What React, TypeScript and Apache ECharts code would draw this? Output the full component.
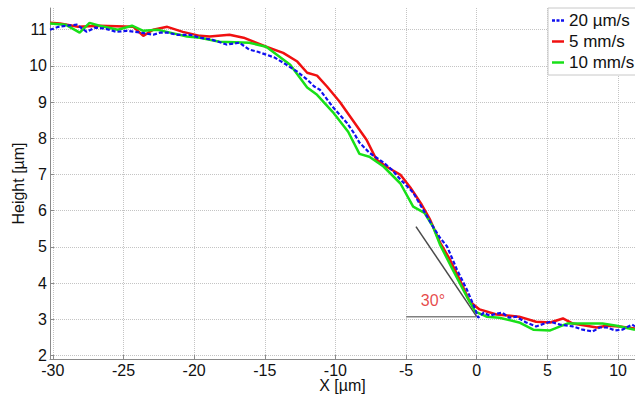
import React, { useEffect, useRef } from "react";
import * as echarts from "echarts";

const xTicks = [-30, -25, -20, -15, -10, -5, 0, 5, 10];
const yTicks = [2, 3, 4, 5, 6, 7, 8, 9, 10, 11];

const seriesNames = ["20 µm/s", "5 mm/s", "10 mm/s"];
const seriesColors = ["#1010f0", "#f01010", "#18e018"];

const blue20um: [number, number][] = [
  [-30.2, 11.0], [-29.6, 11.08], [-29.0, 11.11], [-28.3, 11.14], [-27.6, 10.94], [-27.0, 11.06],
  [-26.3, 11.03], [-25.5, 10.94], [-24.8, 10.97], [-23.8, 10.92], [-22.9, 10.86], [-22.4, 10.92],
  [-21.9, 10.92], [-21.2, 10.86], [-20.3, 10.86], [-19.6, 10.78], [-18.7, 10.72], [-17.7, 10.59],
  [-16.8, 10.64], [-16.1, 10.45], [-15.5, 10.39], [-14.9, 10.31], [-14.3, 10.23], [-13.7, 10.09],
  [-12.7, 9.84], [-12.0, 9.62], [-11.5, 9.43], [-11.1, 9.34], [-10.2, 8.87], [-9.2, 8.43],
  [-8.7, 8.15], [-8.3, 7.88], [-7.6, 7.6], [-6.6, 7.33], [-6.0, 7.13], [-5.4, 6.86], [-4.5, 6.5],
  [-3.8, 6.03], [-3.1, 5.56], [-2.6, 5.25], [-2.1, 5.01], [-1.4, 4.37], [-0.7, 3.82], [-0.1, 3.27],
  [0.1, 3.04], [0.5, 3.18], [0.9, 3.1], [1.4, 3.15], [1.8, 3.18], [2.3, 3.04], [2.8, 3.07],
  [3.5, 2.91], [4.2, 2.8], [4.8, 2.88], [5.2, 2.93], [5.9, 2.85], [6.8, 2.8], [7.5, 2.71],
  [8.2, 2.66], [8.7, 2.77], [9.2, 2.77], [9.8, 2.69], [10.3, 2.71], [11.0, 2.85], [11.2, 2.8],
];

const red5mm: [number, number][] = [
  [-30.2, 11.19], [-29.5, 11.17], [-28.2, 11.08], [-26.7, 11.11], [-24.3, 11.08], [-23.6, 10.83],
  [-22.9, 11.0], [-21.9, 11.08], [-20.8, 10.94], [-19.6, 10.83], [-18.9, 10.81], [-17.5, 10.86],
  [-16.5, 10.78], [-14.9, 10.53], [-13.7, 10.36], [-12.7, 10.12], [-12.0, 9.81], [-11.3, 9.73],
  [-10.6, 9.43], [-9.7, 9.01], [-8.8, 8.51], [-7.8, 7.96], [-7.1, 7.41], [-6.4, 7.22], [-5.4, 6.99],
  [-4.7, 6.64], [-3.9, 6.17], [-3.3, 5.75], [-2.6, 5.12], [-1.9, 4.65], [-1.2, 4.09], [-0.5, 3.49],
  [0.2, 3.27], [1.4, 3.13], [3.0, 3.07], [4.2, 2.93], [5.2, 2.91], [6.1, 3.02], [6.8, 2.88],
  [8.5, 2.77], [9.2, 2.82], [10.1, 2.8], [11.2, 2.74],
];

const green10mm: [number, number][] = [
  [-30.2, 11.17], [-29.1, 11.14], [-28.1, 10.92], [-27.4, 11.19], [-26.7, 11.11], [-25.4, 11.0],
  [-24.4, 11.11], [-23.6, 10.97], [-22.6, 11.0], [-21.7, 10.92], [-20.5, 10.81], [-19.6, 10.78],
  [-18.2, 10.67], [-16.1, 10.64], [-14.9, 10.53], [-13.2, 10.03], [-12.0, 9.4], [-11.3, 9.2],
  [-10.2, 8.73], [-9.1, 8.18], [-8.3, 7.57], [-7.6, 7.49], [-6.6, 7.22], [-5.4, 6.75], [-4.5, 6.11],
  [-3.7, 5.94], [-3.1, 5.56], [-2.6, 5.06], [-1.7, 4.37], [-0.7, 3.62], [-0.1, 3.21], [0.7, 3.07],
  [1.6, 3.04], [3.0, 2.91], [4.0, 2.71], [5.2, 2.69], [5.9, 2.8], [6.4, 2.88], [8.9, 2.88],
  [9.9, 2.82], [11.2, 2.71],
];

const tangentLine: [number, number][] = [[-4.3, 5.56], [0, 3.07]];
const baseLine: [number, number][] = [[-5, 3.07], [0, 3.07]];
const angleLabel = "30°";
const angleLabelPos: [number, number] = [-3.1, 3.51];

const FONT = "'Liberation Sans', Arial, Helvetica, sans-serif";
const DASH_ICON = "path://M0,0h3v2.5h-3z M4.5,0h3v2.5h-3z M9,0h3v2.5h-3z";

export default function App() {
  const ref = useRef<HTMLDivElement>(null);
  useEffect(() => {
    if (!ref.current) return;
    const chart = echarts.init(ref.current, null, { renderer: "svg" });
    const gridLine = { show: true, lineStyle: { color: "#c4c4c4", type: "dotted", width: 1 } };
    chart.setOption({
      animation: false,
      backgroundColor: "#fff",
      textStyle: { fontFamily: FONT },
      grid: { left: 50, right: 0, top: 8, bottom: 37, outerBoundsMode: "none", containLabel: false },
      legend: {
        data: [
          { name: seriesNames[0], icon: DASH_ICON, itemStyle: { color: seriesColors[0], borderWidth: 0 } },
          { name: seriesNames[1], icon: "rect", itemStyle: { color: seriesColors[1], borderWidth: 0 } },
          { name: seriesNames[2], icon: "rect", itemStyle: { color: seriesColors[2], borderWidth: 0 } },
        ],
        orient: "vertical",
        left: 548,
        top: 8,
        padding: [4, 8, 4, 4],
        itemGap: 4,
        itemWidth: 12,
        itemHeight: 2.5,
        backgroundColor: "#fff",
        borderColor: "#c8c8c8",
        borderWidth: 1,
        textStyle: { fontSize: 17, color: "#111", fontFamily: FONT },
      },
      xAxis: {
        type: "value",
        min: -30.2,
        max: 11.2,
        name: "X [µm]",
        nameLocation: "middle",
        nameGap: 19,
        nameMoveOverlap: false,
        nameTextStyle: { fontSize: 16, lineHeight: 15, color: "#111", fontFamily: FONT },
        axisLine: { show: true, onZero: false, lineStyle: { color: "#8a8a8a", width: 1 } },
        axisTick: { show: true, inside: true, length: 4, customValues: xTicks, lineStyle: { color: "#8a8a8a" } },
        axisLabel: { customValues: xTicks, fontSize: 16, lineHeight: 14, color: "#111", margin: 4, fontFamily: FONT },
        splitLine: gridLine,
      },
      yAxis: {
        type: "value",
        min: 1.9,
        max: 11.6,
        name: "Height [µm]",
        nameLocation: "middle",
        nameGap: 24,
        nameRotate: 90,
        nameMoveOverlap: false,
        nameTextStyle: { fontSize: 16, color: "#111", fontFamily: FONT },
        axisLine: { show: true, onZero: false, lineStyle: { color: "#8a8a8a", width: 1 } },
        axisTick: { show: true, inside: true, length: 4, customValues: yTicks, lineStyle: { color: "#8a8a8a" } },
        axisLabel: { customValues: yTicks, fontSize: 16, color: "#111", margin: 3, fontFamily: FONT },
        splitLine: gridLine,
      },
      series: [
        {
          name: seriesNames[0],
          type: "line",
          data: blue20um,
          showSymbol: false,
          symbol: "none",
          itemStyle: { color: seriesColors[0] },
          lineStyle: { color: seriesColors[0], width: 2.2, type: [4, 2] },
          z: 4,
        },
        {
          name: seriesNames[1],
          type: "line",
          data: red5mm,
          showSymbol: false,
          symbol: "none",
          itemStyle: { color: seriesColors[1] },
          lineStyle: { color: seriesColors[1], width: 2.5 },
          z: 2,
        },
        {
          name: seriesNames[2],
          type: "line",
          data: green10mm,
          showSymbol: false,
          symbol: "none",
          itemStyle: { color: seriesColors[2] },
          lineStyle: { color: seriesColors[2], width: 2.5 },
          z: 3,
        },
        {
          name: "tangent",
          type: "line",
          data: tangentLine,
          showSymbol: false,
          symbol: "none",
          silent: true,
          itemStyle: { color: "#4a4a4a" },
          lineStyle: { color: "#4a4a4a", width: 1.5 },
          z: 1,
        },
        {
          name: "base",
          type: "line",
          data: baseLine,
          showSymbol: false,
          symbol: "none",
          silent: true,
          itemStyle: { color: "#808080" },
          lineStyle: { color: "#808080", width: 1.5 },
          z: 1,
        },
        {
          name: "angle",
          type: "scatter",
          data: [angleLabelPos],
          symbolSize: 0,
          silent: true,
          label: {
            show: true,
            position: "inside",
            formatter: angleLabel,
            fontSize: 16,
            color: "#e01818",
            fontFamily: FONT,
          },
          z: 5,
        },
      ],
    });
    return () => chart.dispose();
  }, []);
  return (
    <div
      ref={ref}
      style={{ position: "fixed", left: 0, top: 0, width: 635, height: 396, background: "#fff" }}
    />
  );
}
